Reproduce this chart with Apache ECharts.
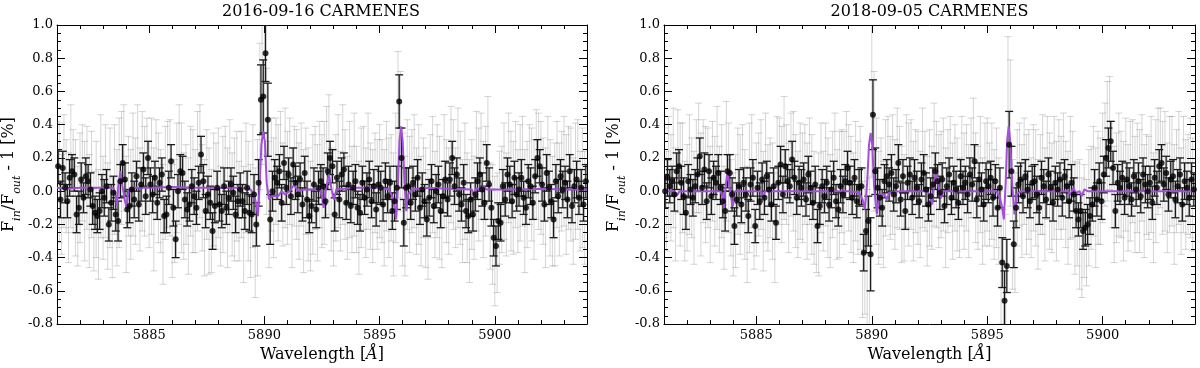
<!DOCTYPE html>
<html><head><meta charset="utf-8">
<script src="https://cdn.jsdelivr.net/npm/echarts@6/dist/echarts.min.js"></script>
<style>html,body{margin:0;padding:0;background:#fff}#c{width:1200px;height:368px}</style>
</head><body><div id="c"></div><script>
// ---------- DATA ----------
const titles = ['2016-09-16 CARMENES', '2018-09-05 CARMENES'];
const xMin = 5881, xMax = 5904;
const xMajorTicks = [5885, 5890, 5895, 5900];
const xMinorTicks = [5882,5883,5884,5886,5887,5888,5889,5891,5892,5893,5894,5896,5897,5898,5899,5901,5902,5903];
const binStart = 5881.05, binStep = 0.1;   // wavelength grid of binned (black) points
const pixStart = 5881.00, pixStep = 0.1;   // wavelength grid of unbinned (grey) points

// 2016-09-16 binned points [%]
const black2016 = [
 0.15,-0.05,0.14,0.02,-0.06,0.08,0.12,0.10,-0.14,-0.10,
 0.07,-0.04,0.09,0.06,0.01,-0.09,-0.13,-0.15,-0.12,0.00,
 -0.04,0.03,-0.20,-0.07,-0.01,-0.14,-0.18,0.06,0.17,0.07,
 -0.11,-0.09,0.01,-0.05,0.09,-0.08,0.04,0.13,-0.03,0.20,
 0.04,-0.02,0.08,-0.07,0.05,0.10,-0.15,-0.14,0.02,0.18,
 -0.10,-0.29,0.00,0.12,0.11,-0.05,-0.11,-0.08,0.03,-0.03,
 -0.10,0.05,0.22,0.06,-0.12,-0.02,-0.07,-0.24,-0.09,0.02,
 -0.08,-0.12,0.03,-0.10,-0.04,0.04,-0.01,-0.14,-0.06,0.01,
 -0.06,-0.12,0.02,-0.13,-0.14,-0.02,-0.20,0.05,0.55,0.57,
 0.83,0.43,-0.17,0.00,0.08,0.05,0.12,-0.07,0.17,0.02,
 0.10,-0.03,0.16,0.05,-0.02,0.07,-0.08,0.11,-0.05,-0.15,
 -0.09,0.04,-0.11,0.02,0.06,0.03,-0.06,0.12,0.20,0.15,
 -0.14,0.08,-0.05,0.10,0.13,-0.07,0.04,-0.09,0.02,0.06,
 -0.10,-0.13,0.05,-0.04,0.01,0.07,-0.06,0.03,-0.11,0.04,
 0.02,-0.08,0.06,-0.03,0.05,-0.12,-0.06,0.02,0.54,0.20,
 -0.19,0.02,0.03,-0.07,0.05,-0.02,0.08,-0.10,0.01,-0.06,
 -0.17,-0.04,0.06,-0.09,0.00,0.04,-0.12,-0.03,0.07,-0.05,
 0.07,0.20,0.03,0.10,-0.02,-0.08,0.05,-0.12,-0.15,-0.05,
 -0.14,-0.02,0.06,0.10,0.01,-0.07,0.17,0.04,-0.10,-0.28,
 -0.33,-0.18,-0.19,0.03,-0.05,0.10,0.04,-0.06,0.08,-0.02,
 0.01,0.08,-0.04,-0.10,0.06,0.03,-0.07,0.09,0.20,0.15,
 0.04,-0.08,0.11,0.02,-0.06,-0.17,0.06,-0.03,0.09,0.01,
 0.05,-0.05,0.12,-0.09,0.03,0.07,-0.04,0.02,-0.08,0.06];
// 2016 binned errors [hundredths of %]
const blackErr2016 = [
 10,11,10,9,10,11,10,10,11,10, 10,9,11,10,10,11,10,10,11,10,
 11,10,10,11,10,10,12,10,11,10, 11,10,10,11,9,10,10,10,11,10,
 10,11,10,10,9,10,10,11,10,10, 11,11,10,10,10,11,10,10,10,11,
 10,10,11,10,10,11,10,11,10,10, 10,10,11,10,10,10,10,11,10,10,
 10,11,10,11,11,12,13,14,21,22, 17,22,15,12,11,10,10,11,10,10,
 10,11,10,10,11,10,10,10,11,10, 10,10,11,10,10,11,10,11,10,10,
 10,10,11,10,10,10,11,10,10,10, 10,11,10,10,10,11,10,10,10,11,
 10,10,11,10,10,11,12,13,16,18, 14,12,11,10,10,10,11,10,10,10,
 10,11,10,10,10,11,10,10,11,10, 10,10,11,10,10,10,11,10,10,10,
 10,10,11,10,10,10,11,10,11,11, 12,11,11,10,10,10,11,10,10,10,
 10,11,10,10,10,11,10,10,11,10, 10,10,11,10,10,11,10,10,10,11,
 10,11,10,10,10,11,10,11,10,10];
// 2016 unbinned points [%]
const grey2016 = [
 0.10,0.05,-0.08,0.12,0.03,-0.10,0.15,0.06,-0.04,-0.15,
 0.02,0.11,-0.06,0.08,-0.12,0.04,-0.18,-0.05,-0.20,0.09,
 -0.10,0.06,-0.15,0.02,-0.22,0.07,-0.10,0.05,0.14,0.20,
 -0.14,0.03,-0.08,0.10,0.00,0.18,-0.05,0.12,0.06,0.15,
 -0.02,0.09,-0.11,0.13,0.02,-0.06,-0.20,0.05,0.10,0.08,
 -0.18,-0.12,0.08,0.16,0.02,-0.09,-0.02,-0.15,0.06,0.00,
 -0.06,0.12,0.18,-0.04,-0.16,0.04,-0.12,-0.18,0.01,-0.03,
 0.05,-0.15,-0.02,0.07,-0.10,0.09,-0.08,-0.05,0.03,-0.12,
 0.04,-0.20,0.08,-0.06,-0.18,0.03,-0.25,-0.10,0.45,0.62,
 0.70,0.30,-0.08,0.10,-0.04,0.12,0.05,0.15,-0.02,0.14,
 0.02,0.12,-0.10,0.09,0.04,-0.06,0.10,-0.12,0.06,-0.08,
 -0.15,-0.02,0.08,-0.07,0.10,0.00,0.05,0.18,0.22,-0.05,
 -0.10,0.02,0.12,-0.06,0.16,0.04,-0.10,0.07,-0.05,0.10,
 -0.05,-0.16,0.02,0.08,-0.07,0.12,-0.03,-0.09,0.05,-0.02,
 0.06,0.00,-0.10,0.09,-0.04,0.02,-0.14,0.08,0.40,0.30,
 -0.05,-0.15,0.10,-0.02,0.06,0.12,-0.06,0.04,-0.12,0.02,
 -0.10,-0.20,0.03,0.10,-0.08,0.06,-0.04,-0.14,0.12,0.00,
 -0.06,0.16,0.10,-0.04,0.14,0.02,-0.12,0.06,-0.10,-0.18,
 -0.02,-0.10,0.12,0.04,0.15,-0.05,0.06,0.20,-0.15,-0.20,
 -0.30,-0.25,-0.10,-0.05,0.06,-0.08,0.14,0.00,-0.04,0.10,
 -0.06,0.05,0.12,-0.12,-0.02,0.10,0.04,-0.05,0.16,0.12,
 0.08,0.00,-0.10,0.14,-0.04,-0.12,-0.08,0.10,-0.05,0.06,
 0.12,-0.02,0.08,0.04,-0.12,0.06,0.10,-0.06,0.02,-0.10];
const greyErr2016 = [
 32,36,30,34,28,33,37,31,35,30, 33,29,36,31,34,32,30,35,33,37,
 31,34,32,36,30,33,35,39,34,32, 35,30,33,37,32,34,31,36,33,29,
 32,35,37,30,33,31,36,34,32,35, 34,31,33,36,39,32,30,35,33,37,
 31,36,34,32,35,33,38,31,34,32, 33,30,35,32,36,34,31,37,33,30,
 32,35,33,36,34,37,39,41,44,46, 48,44,38,34,36,32,35,33,31,36,
 34,32,36,30,33,35,31,37,32,34, 33,36,31,35,32,34,37,33,36,31,
 35,32,34,30,36,33,31,35,32,37, 32,34,36,31,33,35,32,34,30,33,
 34,31,35,33,36,32,37,39,44,42, 40,36,33,35,31,34,32,36,33,30,
 36,33,31,35,32,34,37,32,34,31, 32,35,33,30,36,34,31,35,33,37,
 33,31,36,34,32,35,33,37,32,36, 39,36,34,32,35,31,33,36,34,32,
 31,35,33,37,32,30,34,36,33,35, 34,32,36,31,35,33,37,32,34,30,
 33,36,31,34,32,35,33,30,36,34];

// 2018-09-05 binned points [%]
const black2018 = [
 0.00,0.08,0.03,0.06,-0.02,0.12,0.15,0.05,-0.03,-0.13,
 0.06,0.01,-0.04,0.03,0.10,0.21,0.02,0.13,-0.06,0.12,
 -0.03,0.08,0.05,0.11,0.02,-0.06,-0.12,0.12,0.11,-0.02,
 -0.21,-0.05,0.03,-0.08,0.05,-0.02,-0.15,0.04,0.08,-0.21,
 0.02,-0.06,0.07,-0.04,0.09,0.01,-0.08,0.03,-0.19,0.05,
 0.16,-0.02,0.15,0.06,0.03,0.19,0.08,-0.04,0.05,0.02,
 0.07,-0.05,0.10,0.02,-0.07,0.04,-0.21,-0.09,0.03,-0.03,
 0.05,-0.08,0.01,0.08,-0.06,-0.11,0.03,-0.02,0.06,0.14,
 0.05,-0.04,0.08,-0.06,0.02,0.03,-0.37,-0.24,-0.18,-0.38,
 0.46,0.12,0.02,-0.04,-0.10,0.06,0.09,0.04,0.11,-0.02,
 0.03,0.17,-0.05,0.09,-0.12,0.05,0.10,-0.04,0.08,0.02,
 -0.06,0.07,0.11,0.01,-0.08,-0.03,0.04,0.12,0.06,-0.01,
 0.07,-0.09,0.03,0.10,-0.04,0.05,0.01,-0.07,0.09,0.02,
 0.05,-0.02,0.10,0.04,0.18,-0.05,0.07,0.01,-0.08,0.06,
 0.03,0.08,-0.04,0.06,-0.10,0.02,-0.43,-0.66,-0.45,0.28,
 0.12,-0.32,-0.10,0.04,0.07,-0.03,0.09,0.01,-0.06,0.05,
 0.06,-0.02,-0.10,0.08,0.03,-0.05,0.10,0.02,-0.07,0.05,
 0.01,0.07,-0.04,0.09,0.03,-0.06,0.05,-0.02,-0.12,-0.17,
 -0.12,-0.24,-0.22,-0.20,-0.15,-0.08,0.02,-0.05,0.06,-0.06,
 0.10,0.20,0.26,0.30,0.14,-0.12,0.05,0.02,0.08,-0.04,
 0.07,0.03,-0.05,0.09,0.01,0.06,-0.03,0.10,0.04,0.00,
 0.05,-0.07,0.08,0.02,0.15,0.17,0.04,0.11,-0.02,0.07,
 0.09,-0.05,0.03,0.10,-0.08,0.06,0.02,-0.04,0.07,0.01];
const blackErr2018 = [
 10,11,10,9,10,11,10,10,11,10, 10,9,11,10,10,11,10,10,11,10,
 11,10,10,11,10,10,12,10,11,10, 11,10,10,11,9,10,10,10,11,10,
 10,11,10,10,9,10,10,11,10,10, 11,11,10,10,10,11,10,10,10,11,
 10,10,11,10,10,11,10,11,10,10, 10,10,11,10,10,10,10,11,10,10,
 10,10,11,10,11,11,11,13,15,22, 21,14,12,11,11,10,10,10,11,10,
 10,11,10,10,11,10,10,10,11,10, 10,10,11,10,10,11,10,11,10,10,
 10,10,11,10,10,10,11,10,10,10, 10,11,10,10,10,11,10,10,10,11,
 10,10,11,10,11,12,15,18,16,20, 15,14,12,11,10,10,10,11,10,10,
 10,11,10,10,10,11,10,10,11,10, 10,10,11,10,10,10,11,10,10,10,
 10,11,11,12,11,10,11,10,11,11, 11,11,12,12,10,10,11,10,10,10,
 10,11,10,10,10,11,10,10,11,10, 10,10,11,10,10,11,10,10,10,11,
 10,11,10,10,10,11,10,11,10,10];
const grey2018 = [
 0.05,-0.06,0.10,0.02,0.14,-0.08,0.18,0.04,0.08,-0.12,
 -0.04,0.10,0.02,-0.10,0.15,0.20,-0.02,0.12,0.04,0.08,
 -0.08,0.12,0.00,0.14,-0.05,0.06,-0.16,0.18,0.08,-0.10,
 -0.20,-0.12,0.06,-0.02,0.10,-0.08,-0.20,0.02,0.12,-0.15,
 -0.05,0.04,0.10,-0.12,0.08,-0.04,0.02,-0.06,-0.22,0.08,
 0.12,0.04,0.20,0.10,-0.04,0.16,0.12,0.00,-0.08,0.06,
 0.02,0.10,-0.06,0.12,-0.02,-0.10,-0.18,-0.14,0.08,-0.06,
 0.10,-0.04,-0.12,0.04,0.12,-0.08,-0.02,0.06,0.02,0.16,
 0.08,-0.02,-0.10,0.06,-0.04,0.02,-0.35,-0.30,-0.45,-0.40,
 0.55,0.30,0.06,-0.10,-0.04,-0.14,0.08,0.12,0.02,0.10,
 -0.02,0.14,0.08,-0.08,-0.10,0.12,0.04,0.10,-0.06,0.06,
 0.02,-0.08,0.14,0.06,-0.12,0.02,-0.04,0.16,0.10,0.00,
 0.04,0.10,-0.10,0.06,0.12,-0.06,0.08,-0.02,-0.10,0.12,
 0.00,0.08,-0.06,0.14,0.20,0.02,-0.04,0.10,-0.12,0.04,
 0.10,-0.02,0.06,-0.08,0.02,-0.12,-0.40,-0.55,-0.60,0.45,
 0.35,-0.20,-0.25,0.02,0.10,-0.06,0.12,-0.02,0.04,-0.10,
 0.08,0.02,-0.14,0.04,0.10,-0.08,0.14,0.00,-0.04,0.08,
 -0.06,0.10,0.02,0.12,-0.02,-0.10,0.08,0.04,-0.16,-0.14,
 -0.20,-0.28,-0.18,-0.25,-0.10,-0.04,0.06,-0.10,0.02,0.00,
 0.14,0.22,0.30,0.35,0.10,-0.08,0.02,0.10,0.04,-0.06,
 0.10,-0.04,0.06,0.12,-0.02,0.08,0.00,0.14,-0.06,0.04,
 0.02,0.10,-0.10,0.06,0.18,0.20,0.08,0.12,-0.04,0.10,
 0.12,-0.08,0.06,0.14,-0.06,0.10,-0.02,0.04,0.08,-0.02];
const greyErr2018 = [
 33,30,35,32,36,34,31,37,33,30, 32,36,30,34,28,33,37,31,35,30,
 35,30,33,37,32,34,31,36,33,29, 31,34,32,36,30,33,35,39,34,32,
 34,31,33,36,39,32,30,35,33,37, 32,35,37,30,33,31,36,34,32,35,
 33,30,35,32,36,34,31,37,33,30, 31,36,34,32,35,33,38,31,34,32,
 32,35,33,36,34,37,41,44,46,48, 46,42,38,34,36,32,35,33,31,36,
 33,36,31,35,32,34,37,33,36,31, 34,32,36,30,33,35,31,37,32,34,
 32,34,36,31,33,35,32,34,30,33, 35,32,34,30,36,33,31,35,32,37,
 34,31,35,33,36,32,40,44,46,48, 44,39,36,35,31,34,32,36,33,30,
 32,35,33,30,36,34,31,35,33,37, 36,33,31,35,32,34,37,32,34,31,
 39,36,34,32,35,31,33,36,34,32, 33,31,36,34,32,35,33,37,32,36,
 34,32,36,31,35,33,37,32,34,30, 31,35,33,37,32,30,34,36,33,35,
 33,36,31,34,32,35,33,30,36,34];

// model curves [wavelength, %]
const model2016 = [
 [5881.0,0.02],[5881.5,0.015],[5882.0,0.02],[5883.0,0.02],[5883.45,0.02],[5883.55,-0.03],[5883.6,-0.09],
 [5883.66,0.03],[5883.75,0.12],[5883.84,0.03],[5883.94,-0.05],[5884.02,-0.10],[5884.1,0.0],[5884.2,0.02],
 [5885.0,0.02],[5886.0,0.025],[5887.0,0.02],[5888.0,0.02],[5889.0,0.02],[5889.4,0.01],[5889.55,-0.02],
 [5889.65,-0.08],[5889.72,-0.15],[5889.8,0.05],[5889.87,0.28],[5889.95,0.36],[5890.02,0.30],[5890.1,0.05],
 [5890.2,-0.05],[5890.35,-0.03],[5890.6,-0.03],[5890.75,0.0],[5890.9,-0.02],[5891.1,0.0],[5891.3,0.04],
 [5891.45,0.0],[5891.7,0.01],[5892.4,0.01],[5892.5,-0.03],[5892.57,-0.10],[5892.65,0.0],[5892.8,0.10],
 [5892.93,0.0],[5893.02,-0.05],[5893.12,0.01],[5894.0,0.02],[5895.0,0.02],[5895.4,0.01],[5895.55,-0.03],
 [5895.65,-0.10],[5895.72,-0.17],[5895.8,0.05],[5895.86,0.30],[5895.93,0.39],[5896.0,0.30],[5896.08,0.05],
 [5896.16,-0.12],[5896.24,-0.02],[5896.4,0.01],[5897.0,0.02],[5898.0,0.015],[5899.0,0.01],[5899.1,-0.02],
 [5899.2,0.02],[5899.4,0.0],[5899.5,0.03],[5899.65,0.01],[5901.0,0.01],[5902.0,0.015],[5903.0,0.01],[5904.0,0.01]];
const model2018 = [
 [5881.0,0.0],[5881.45,0.0],[5881.56,-0.025],[5881.68,0.0],[5883.0,0.0],[5883.45,0.0],[5883.55,-0.04],
 [5883.6,-0.10],[5883.66,0.02],[5883.75,0.12],[5883.84,0.02],[5883.92,-0.05],[5883.99,-0.09],[5884.08,0.0],
 [5885.0,0.0],[5885.2,0.0],[5885.29,-0.04],[5885.38,0.0],[5887.0,0.0],[5888.0,0.0],[5889.0,0.0],
 [5889.45,-0.01],[5889.6,-0.05],[5889.7,-0.11],[5889.8,0.05],[5889.88,0.28],[5889.95,0.35],[5890.02,0.28],
 [5890.1,0.03],[5890.22,-0.14],[5890.32,-0.02],[5890.55,-0.02],[5890.65,-0.05],[5890.75,-0.01],[5891.2,0.0],
 [5892.4,0.0],[5892.52,-0.03],[5892.62,-0.08],[5892.68,0.02],[5892.8,0.12],[5892.9,0.02],[5893.0,-0.04],
 [5893.1,0.0],[5894.0,0.0],[5895.0,0.0],[5895.4,0.0],[5895.55,-0.04],[5895.65,-0.10],[5895.72,-0.17],
 [5895.8,0.05],[5895.86,0.30],[5895.93,0.39],[5896.0,0.30],[5896.08,0.05],[5896.18,-0.14],[5896.28,-0.02],
 [5896.45,0.0],[5898.0,0.0],[5898.5,0.0],[5898.62,-0.02],[5898.72,0.02],[5898.85,-0.01],[5899.0,0.0],
 [5899.1,-0.03],[5899.2,0.01],[5899.35,0.0],[5901.0,0.0],[5902.0,0.0],[5903.0,0.0],[5904.0,0.0]];

// ---------- CHART ----------
const FONT = 'DejaVu Serif';
const grids = [
  {left: 55, top: 25, width: 532, height: 303},
  {left: 664, top: 25, width: 531, height: 303}
];
function tri(start, step, vals, errs) {
  return vals.map((v, i) => [+(start + i * step).toFixed(3), v, errs[i] / 100]);
}
function errRender(capHalf, style) {
  return function (params, api) {
    const x = api.value(0), y = api.value(1), e = api.value(2);
    const t = api.coord([x, y + e]), b = api.coord([x, y - e]);
    return {type: 'group', children: [
      {type: 'line', shape: {x1: t[0], y1: t[1], x2: b[0], y2: b[1]}, style: style},
      {type: 'line', shape: {x1: t[0] - capHalf, y1: t[1], x2: t[0] + capHalf, y2: t[1]}, style: style},
      {type: 'line', shape: {x1: b[0] - capHalf, y1: b[1], x2: b[0] + capHalf, y2: b[1]}, style: style}
    ]};
  };
}
const ylabelName = '{n|F}{s|in}{n|/F}{s|out}{n| - 1 [%]}';
const yNameRich = {
  n: {fontFamily: FONT, fontSize: 16, color: '#000', verticalAlign: 'top', lineHeight: 22},
  s: {fontFamily: FONT, fontSize: 11, fontStyle: 'italic', color: '#000', verticalAlign: 'bottom', lineHeight: 22}
};
const xNameRich = {
  n: {fontFamily: FONT, fontSize: 16, color: '#000'},
  i: {fontFamily: FONT, fontSize: 16, fontStyle: 'italic', color: '#000'}
};
const lineStyle = {color: '#000', width: 1};

const xAxes = [], yAxes = [], series = [], graphics = [];
const panels = [
  {grey: grey2016, greyErr: greyErr2016, black: black2016, blackErr: blackErr2016, model: model2016, nameGap: 34},
  {grey: grey2018, greyErr: greyErr2018, black: black2018, blackErr: blackErr2018, model: model2018, nameGap: 36}
];
panels.forEach((p, g) => {
  const base = {type: 'value', gridIndex: g, min: xMin, max: xMax, splitLine: {show: false}};
  const xi = xAxes.length;
  xAxes.push(Object.assign({}, base, {
    position: 'bottom', axisLine: {show: true, onZero: false, lineStyle},
    axisTick: {show: true, inside: true, length: 8, customValues: xMajorTicks, lineStyle},
    axisLabel: {show: true, customValues: xMajorTicks, margin: 5, fontFamily: FONT, fontSize: 13, color: '#000',
      formatter: v => String(Math.round(v))},
    name: '{n|Wavelength [}{i|Å}{n|]}', nameLocation: 'middle', nameGap: 18,
    nameTextStyle: {rich: xNameRich}
  }));
  xAxes.push(Object.assign({}, base, {
    position: 'bottom', axisLine: {show: false, onZero: false},
    axisTick: {show: true, inside: true, length: 4, customValues: xMinorTicks, lineStyle},
    axisLabel: {show: false}
  }));
  xAxes.push(Object.assign({}, base, {
    position: 'top', axisLine: {show: true, onZero: false, lineStyle},
    axisTick: {show: true, inside: true, length: 8, customValues: xMajorTicks, lineStyle},
    axisLabel: {show: false}
  }));
  xAxes.push(Object.assign({}, base, {
    position: 'top', axisLine: {show: false, onZero: false},
    axisTick: {show: true, inside: true, length: 4, customValues: xMinorTicks, lineStyle},
    axisLabel: {show: false}
  }));
  const yi = yAxes.length;
  const ybase = {type: 'value', gridIndex: g, min: -0.8, max: 1.0, interval: 0.2, splitLine: {show: false},
    minorTick: {show: true, splitNumber: 4, length: 4, lineStyle}, minorSplitLine: {show: false}};
  yAxes.push(Object.assign({}, ybase, {
    position: 'left', axisLine: {show: true, onZero: false, lineStyle},
    axisTick: {show: true, inside: true, length: 8, lineStyle},
    axisLabel: {margin: 4, fontFamily: FONT, fontSize: 13, color: '#000',
      formatter: v => (Math.abs(v) < 1e-9 ? 0 : v).toFixed(1)},
    name: ylabelName, nameLocation: 'middle', nameGap: p.nameGap, nameRotate: 90,
    nameTextStyle: {rich: yNameRich}
  }));
  yAxes.push(Object.assign({}, ybase, {
    position: 'right', axisLine: {show: true, onZero: false, lineStyle},
    axisTick: {show: true, inside: true, length: 8, lineStyle},
    axisLabel: {show: false}
  }));
  series.push({
    type: 'custom', xAxisIndex: xi, yAxisIndex: yi, clip: true, silent: true,
    encode: {x: 0, y: 1},
    renderItem: errRender(3.5, {stroke: 'rgba(80,80,80,0.24)', lineWidth: 1}),
    data: tri(pixStart, pixStep, p.grey, p.greyErr), z: 1
  });
  series.push({
    type: 'custom', xAxisIndex: xi, yAxisIndex: yi, clip: true, silent: true,
    encode: {x: 0, y: 1},
    renderItem: errRender(4, {stroke: '#1a1a1a', lineWidth: 1.3}),
    data: tri(binStart, binStep, p.black, p.blackErr), z: 2
  });
  series.push({
    type: 'line', xAxisIndex: xi, yAxisIndex: yi, showSymbol: false, clip: true, silent: true,
    lineStyle: {color: '#a24fd9', width: 2}, data: p.model, z: 3
  });
  series.push({
    type: 'scatter', xAxisIndex: xi, yAxisIndex: yi, silent: true, clip: true,
    symbol: 'circle', symbolSize: 6, itemStyle: {color: '#000'},
    data: tri(binStart, binStep, p.black, p.blackErr).map(d => [d[0], d[1]]), z: 4
  });
  graphics.push({
    type: 'text', x: grids[g].left + grids[g].width / 2, y: 12,
    style: {text: titles[g], font: '16px "DejaVu Serif"', fill: '#000', textAlign: 'center', textVerticalAlign: 'middle'}
  });
});

const chart = echarts.init(document.getElementById('c'), null, {renderer: 'canvas'});
chart.setOption({
  animation: false,
  backgroundColor: '#fff',
  grid: grids,
  xAxis: xAxes,
  yAxis: yAxes,
  series: series,
  graphic: graphics
});
</script></body></html>
